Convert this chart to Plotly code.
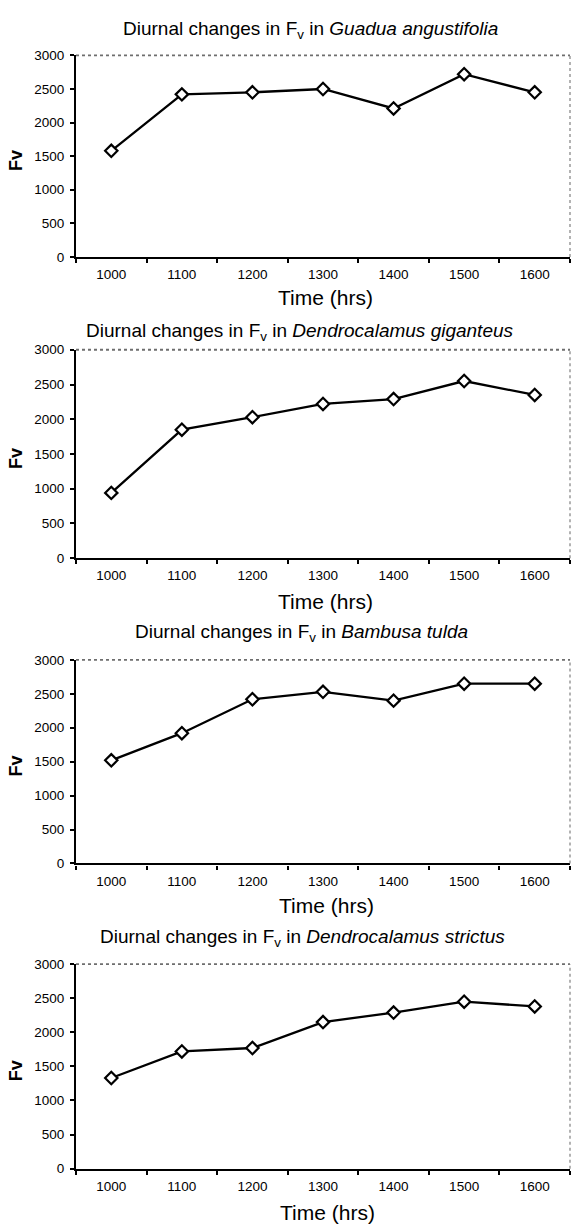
import plotly.graph_objects as go

# ---- data ----
times = ["1000", "1100", "1200", "1300", "1400", "1500", "1600"]
species = ["Guadua angustifolia", "Dendrocalamus giganteus", "Bambusa tulda", "Dendrocalamus strictus"]
fv_guadua = [1580, 2420, 2450, 2500, 2210, 2720, 2450]
fv_giganteus = [940, 1850, 2030, 2220, 2290, 2550, 2350]
fv_tulda = [1520, 1920, 2420, 2530, 2400, 2650, 2650]
fv_strictus = [1330, 1720, 1770, 2150, 2290, 2450, 2380]
y_tick_vals = [0, 500, 1000, 1500, 2000, 2500, 3000]
series = [fv_guadua, fv_giganteus, fv_tulda, fv_strictus]

# ---- layout geometry (pixels) ----
W, H = 573, 1229
FONT = "Liberation Sans, Arial, sans-serif"
panels = [  # (top, bottom) of plot area in px
    (49, 253),
    (347, 558),
    (661, 867),
    (969, 1176),
]
x_left, x_right = 76, 570
title_pos = [(310, 23), (300, 329), (301, 634), (303, 942)]
xtitle_pos = [(325, 294), (325, 602), (326, 910), (327, 1220)]


def px(x):
    return x / W


def py(y):
    return 1 - y / H


fig = go.Figure()
annotations = []
shapes = []

for i, (vals, sp) in enumerate(zip(series, species)):
    n = "" if i == 0 else str(i + 1)
    xa, ya = "x" + n, "y" + n
    fig.add_trace(go.Scatter(
        x=times, y=vals, xaxis=xa, yaxis=ya, mode="lines+markers",
        line=dict(color="black", width=2.3),
        marker=dict(symbol="diamond", size=9.5, color="white",
                    line=dict(color="black", width=2.2)),
        showlegend=False, cliponaxis=False,
    ))
    top, bot = panels[i]
    fig.update_layout({
        "xaxis" + n: dict(
            domain=[px(x_left), px(x_right)], anchor=ya,
            type="category", range=[-0.5, 6.5], tickson="boundaries",
            ticks="outside", ticklen=4, tickwidth=1.5, tickcolor="black",
            showline=True, linecolor="black", linewidth=2.2,
            showgrid=False, zeroline=False,
            tickfont=dict(family=FONT, size=13.5, color="black"),
            ticklabelstandoff=4,
        ),
        "yaxis" + n: dict(
            domain=[py(bot), py(top)], anchor=xa,
            range=[0, 3000], tickvals=y_tick_vals,
            ticks="outside", ticklen=4, tickwidth=1.5, tickcolor="black",
            showline=True, linecolor="black", linewidth=2.2,
            showgrid=False, zeroline=False,
            tickfont=dict(family=FONT, size=13.5, color="black"),
            ticklabelstandoff=3,
        ),
    })
    # plot-area border (top and right), grey
    shapes.append(dict(type="line", xref=xa + " domain", yref=ya + " domain",
                       x0=0, x1=1, y0=1, y1=1,
                       line=dict(color="#6e6e6e", width=1.8, dash="dot")))
    shapes.append(dict(type="line", xref=xa + " domain", yref=ya + " domain",
                       x0=1, x1=1, y0=0, y1=1,
                       line=dict(color="#8a8a8a", width=1.3, dash="dot")))
    tx, ty = title_pos[i]
    annotations.append(dict(
        text=f"Diurnal changes in F<sub>v</sub> in <i>{sp}</i>",
        x=px(tx), y=py(ty), xref="paper", yref="paper",
        xanchor="center", yanchor="middle", showarrow=False,
        font=dict(family=FONT, size=19, color="black")))
    xx, xy = xtitle_pos[i]
    annotations.append(dict(
        text="Time (hrs)", x=px(xx), y=py(xy), xref="paper", yref="paper",
        xanchor="center", yanchor="middle", showarrow=False,
        font=dict(family=FONT, size=21, color="black")))
    annotations.append(dict(
        text="<b>Fv</b>", x=px(16), y=py((top + bot) / 2 + 5),
        xref="paper", yref="paper", textangle=-90,
        xanchor="center", yanchor="middle", showarrow=False,
        font=dict(family=FONT, size=18, color="black")))

fig.update_layout(
    width=W, height=H, margin=dict(l=0, r=0, t=0, b=0),
    paper_bgcolor="white", plot_bgcolor="white",
    annotations=annotations, shapes=shapes,
)

fig.write_html("out.html")
